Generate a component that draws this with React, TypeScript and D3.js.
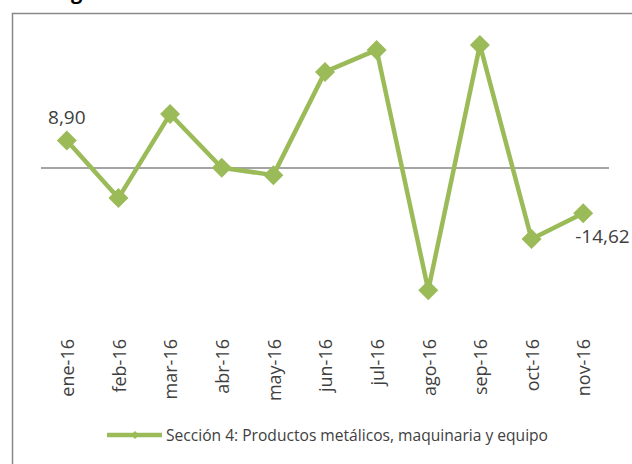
import React from "react";
import * as d3 from "d3";

const categories = ["ene-16", "feb-16", "mar-16", "abr-16", "may-16", "jun-16", "jul-16", "ago-16", "sep-16", "oct-16", "nov-16"];
const values = [8.9, -9.7, 17.4, 0.1, -2.3, 31.0, 38.1, -39.4, 39.7, -22.9, -14.62];
const seriesName = "Sección 4: Productos metálicos, maquinaria y equipo";
const labelled = [
  { index: 0, text: "8,90" },
  { index: 10, text: "-14,62" },
];

const W = 632;
const H = 464;
const GREEN = "#9BBB59";
const FONT = "'Open Sans', 'Noto Sans', sans-serif";

export default function App() {
  const x = d3.scaleBand<string>().domain(categories).range([41, 609]);
  const y = d3.scaleLinear().domain([-50, 50]).range([323, 13]);
  const cx = (c: string) => (x(c) ?? 0) + x.bandwidth() / 2;

  const line = d3
    .line<number>()
    .x((_, i) => cx(categories[i]))
    .y((d) => y(d));

  const diamond = (r: number) => `M0,${-r}L${r},0L0,${r}L${-r},0Z`;

  return (
    <svg
      width={W}
      height={H}
      style={{ position: "absolute", left: 0, top: 0, background: "#fff" }}
      fontFamily={FONT}
    >
      <rect x={0} y={0} width={W} height={H} fill="#fff" />
      {/* cut-off title fragment, as in the reference */}
      <text x={71} y={-1} fontSize={20} fontWeight="bold" fill="#000">
        g
      </text>
      {/* chart border */}
      <path d={`M12.5,${H + 5}V13.5H${W + 5}`} fill="none" stroke="#888" strokeWidth={1.5} />

      {/* zero axis */}
      <line x1={41} x2={609} y1={y(0)} y2={y(0)} stroke="#868686" strokeWidth={1.5} />

      {/* series line */}
      <path d={line(values) ?? ""} fill="none" stroke={GREEN} strokeWidth={4.5} strokeLinejoin="round" />
      {values.map((v, i) => (
        <path key={i} d={diamond(10)} transform={`translate(${cx(categories[i])},${y(v)})`} fill={GREEN} />
      ))}

      {/* data labels */}
      {labelled.map((l) => {
        const px = cx(categories[l.index]);
        const py = y(values[l.index]);
        if (l.index === 0) {
          return (
            <text key={l.index} x={px} y={py - 16} textAnchor="middle" fontSize={19} fill="#404040">
              {l.text}
            </text>
          );
        }
        return (
          <text key={l.index} x={px - 8} y={py + 30} textAnchor="start" fontSize={19} fill="#404040">
            {l.text}
          </text>
        );
      })}

      {/* category labels */}
      {categories.map((c) => (
        <text
          key={c}
          transform={`translate(${cx(c) + 1},339) rotate(-90)`}
          textAnchor="end"
          dy="0.35em"
          fontSize={18}
          fill="#404040"
        >
          {c}
        </text>
      ))}

      {/* legend */}
      <line x1={107} x2={162} y1={435} y2={435} stroke={GREEN} strokeWidth={4.5} />
      <path d={diamond(4)} transform="translate(135,435)" fill={GREEN} />
      <text x={166} y={441} fontSize={15.6} fill="#404040">
        {seriesName}
      </text>
    </svg>
  );
}
